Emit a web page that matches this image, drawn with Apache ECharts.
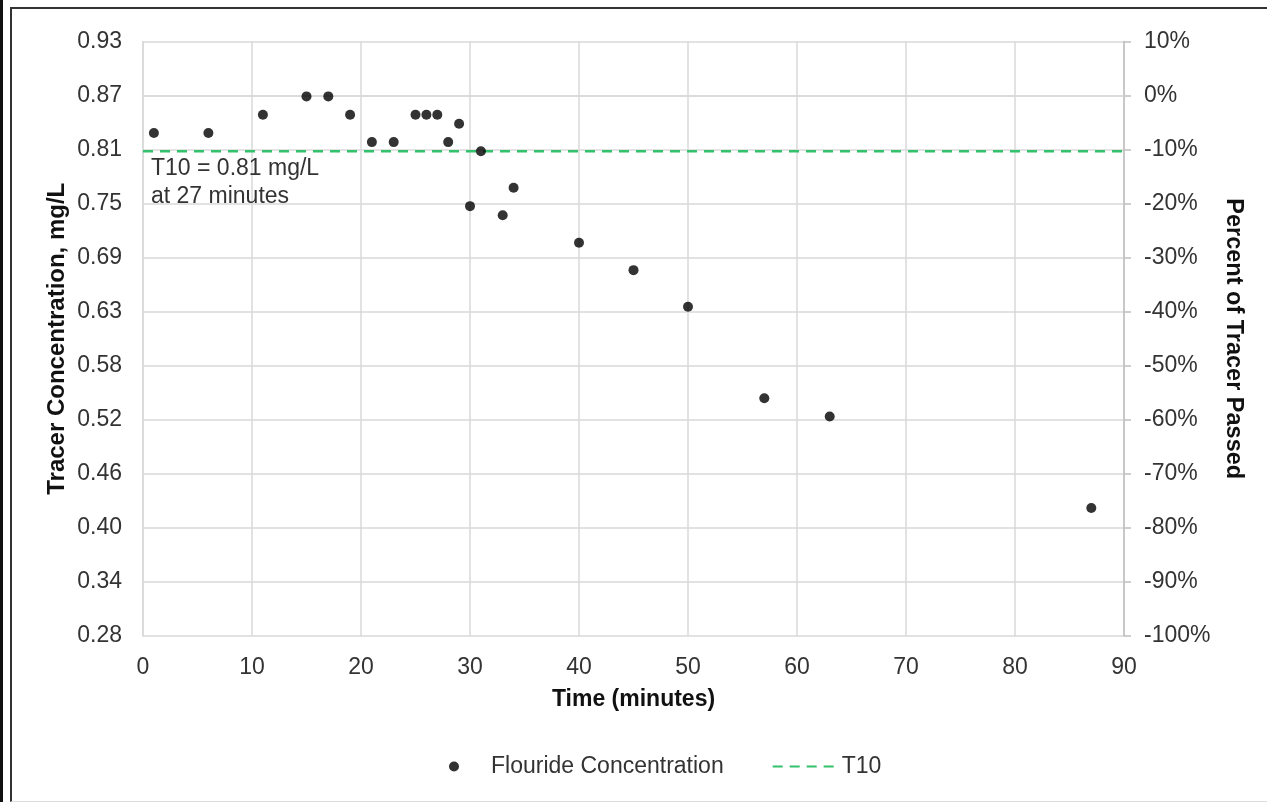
<!DOCTYPE html>
<html>
<head>
<meta charset="utf-8">
<script src="https://cdn.jsdelivr.net/npm/echarts@6/dist/echarts.min.js"></script>
<style>
  html, body { margin: 0; padding: 0; background: #fff; }
  #wrap { position: relative; width: 1267px; height: 802px; overflow: hidden; }
  #main { position: absolute; left: 0; top: 0; width: 1267px; height: 802px; }
  .bar { position: absolute; left: 0; top: 0; width: 3px; height: 802px; background: #111; }
  .frame { position: absolute; left: 10px; top: 7px; width: 1270px; height: 792px;
           border-top: 2px solid #333; border-left: 2px solid #333; border-bottom: 1px solid #ddd; pointer-events: none; }
</style>
</head>
<body>
<div id="wrap">
  <div class="bar"></div>
  <div class="frame"></div>
  <div id="main"></div>
</div>
<script>
// time (minutes) and flouride concentration (mg/L)
var times = [1, 6, 11, 15, 17, 19, 21, 23, 25, 26, 27, 28, 29, 30, 31, 33, 34, 40, 45, 50, 57, 63, 87];
var conc = [0.83, 0.83, 0.85, 0.87, 0.87, 0.85, 0.82, 0.82, 0.85, 0.85, 0.85, 0.82, 0.84, 0.75, 0.81, 0.74, 0.77, 0.71, 0.68, 0.64, 0.54, 0.52, 0.42];
// T10 line
var t10X = [0, 90];
var t10Y = [0.81, 0.81];
// left axis tick labels (bottom to top)
var leftTicks = ['0.28', '0.34', '0.40', '0.46', '0.52', '0.58', '0.63', '0.69', '0.75', '0.81', '0.87', '0.93'];
var concMin = 0.28, concMax = 0.93;
var pctMin = -100, pctMax = 10;

var font = 'Liberation Sans, Arial, sans-serif';
var txt = '#333';
var gridColor = '#d9d9d9';

var chart = echarts.init(document.getElementById('main'));

var option = {
    animation: false,
    textStyle: { fontFamily: font },
    grid: { left: 143, right: 143, top: 41.5, bottom: 166, containLabel: false },
    legend: {
        left: 444,
        top: 750,
        itemWidth: 64,
        itemHeight: 10,
        itemGap: 48,
        textStyle: { fontSize: 23, color: txt, fontFamily: font },
        data: ['Flouride Concentration', { name: 'T10', itemStyle: { opacity: 0 } }]
    },
    xAxis: {
        type: 'value',
        min: 0, max: 90, interval: 10,
        name: 'Time (minutes)',
        nameLocation: 'middle',
        nameGap: 52,
        nameTextStyle: { fontSize: 23, fontWeight: 'bold', color: '#111', fontFamily: font },
        axisLine: { show: true, lineStyle: { color: gridColor, width: 1.5 } },
        axisTick: { show: false },
        axisLabel: { fontSize: 23, color: txt, margin: 20, fontFamily: font },
        splitLine: { show: true, lineStyle: { color: gridColor, width: 1.5 } }
    },
    yAxis: [
        {   // data axis, mg/L
            type: 'value', min: concMin, max: concMax, show: false,
            splitLine: { show: false }
        },
        {   // percent axis, right
            type: 'value', position: 'right',
            min: pctMin, max: pctMax, interval: 10,
            name: 'Percent of Tracer Passed',
            nameLocation: 'middle',
            nameRotate: -90,
            nameGap: 95,
            nameTextStyle: { fontSize: 23.5, fontWeight: 'bold', color: '#111', fontFamily: font },
            axisLine: { show: true, lineStyle: { color: '#bfbfbf', width: 1.5 } },
            axisTick: { show: true, inside: false, length: 7, lineStyle: { color: '#bfbfbf', width: 1.5 } },
            axisLabel: { fontSize: 23, color: txt, margin: 20, formatter: '{value}%', fontFamily: font },
            splitLine: { show: true, lineStyle: { color: gridColor, width: 1.5 } }
        },
        {   // label axis, left
            type: 'category', position: 'left', boundaryGap: false,
            data: leftTicks,
            name: 'Tracer Concentration, mg/L',
            nameLocation: 'middle',
            nameRotate: 90,
            nameGap: 74,
            nameMoveOverlap: false,
            nameTextStyle: { fontSize: 24, fontWeight: 'bold', color: '#111', fontFamily: font },
            axisLine: { show: true, lineStyle: { color: gridColor, width: 1.5 } },
            axisTick: { show: false },
            axisLabel: { fontSize: 23, color: txt, margin: 21, interval: 0, fontFamily: font },
            splitLine: { show: false }
        }
    ],
    series: [
        {
            name: 'Flouride Concentration',
            type: 'scatter',
            yAxisIndex: 0,
            symbol: 'circle',
            symbolSize: 10,
            itemStyle: { color: '#000' },
            data: times.map(function (t, i) { return [t, conc[i]]; }),
            z: 5
        },
        {
            name: 'T10',
            type: 'line',
            yAxisIndex: 0,
            symbol: 'none',
            lineStyle: { color: '#33c16b', width: 2.5, type: [10, 7] },
            itemStyle: { color: '#33c16b' },
            data: t10X.map(function (x, i) { return [x, t10Y[i]]; }),
            z: 3
        }
    ]
};
chart.setOption(option);

var p = chart.convertToPixel({ xAxisIndex: 0, yAxisIndex: 0 }, [t10X[0], t10Y[0]]);
chart.setOption({
    graphic: [{
        type: 'text',
        left: p[0] + 8,
        top: p[1] + 3,
        style: {
            text: 'T10 = ' + t10Y[0].toFixed(2) + ' mg/L\nat 27 minutes',
            font: '23px ' + font,
            fill: txt,
            lineHeight: 28
        },
        z: 10
    }]
});
</script>
</body>
</html>
